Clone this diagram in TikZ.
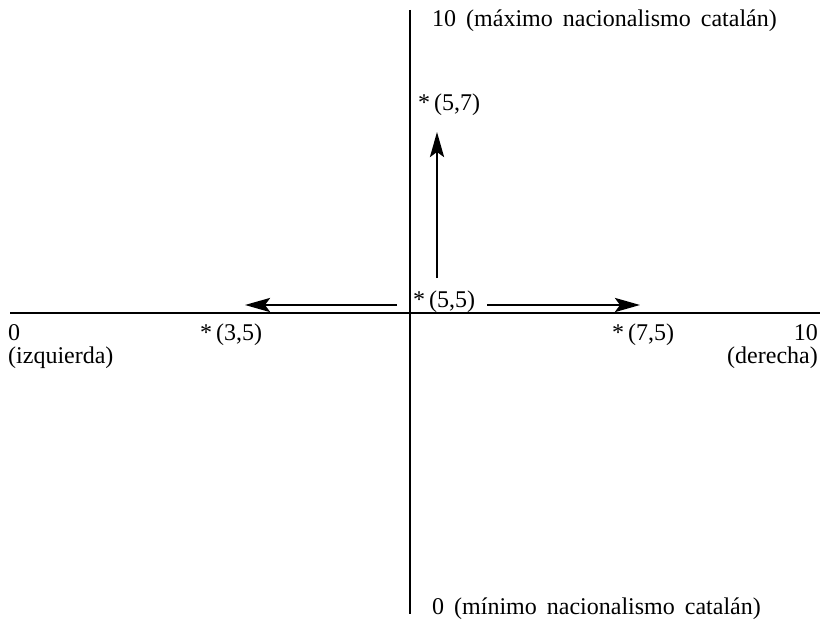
\documentclass[tikz,border=0pt]{standalone}
\usepackage{fontspec}
\setmainfont{Liberation Serif}
\usetikzlibrary{arrows.meta}
\newcommand{\widesp}{\spaceskip=10pt\relax}
\begin{document}
\begin{tikzpicture}[x=1pt,y=-1pt,
  lbl/.style={inner sep=0pt, font=\fontsize{24}{26}\selectfont},
  mv/.style={line width=2.9pt, -{Stealth[length=25pt,width=14pt,inset=5pt]}}]
\useasboundingbox (0,0) rectangle (822,623);
% axes
\coordinate (hl) at (10,313);
\coordinate (hr) at (820,313);
\coordinate (vt) at (410,10);
\coordinate (vb) at (410,614);
\draw[line width=1.3pt] (hl) -- (hr);
\draw[line width=2.6pt] (vt) -- (vb);
% labels
\node[lbl, anchor=base west] (top) at (432,27) {\widesp 10 (máximo nacionalismo catalán)};
\node[lbl, anchor=base west] (bot) at (432,614) {\widesp 0 (mínimo nacionalismo catalán)};
\node[lbl, anchor=base west] (zero) at (8,340) {0};
\node[lbl, anchor=base west] (izq) at (8,363) {(izquierda)};
\node[lbl, anchor=base east] (ten) at (818,340) {10};
\node[lbl, anchor=base east] (der) at (818,363) {(derecha)};
\node[lbl, anchor=base west] (p55) at (413,307) {*\,(5,5)};
\node[lbl, anchor=base west] (p57) at (418,111) {*\,(5,7)};
\node[lbl, anchor=base west] (p35) at (200,340) {*\,(3,5)};
\node[lbl, anchor=base west] (p75) at (612,340) {*\,(7,5)};
% movement arrows
\coordinate (la) at (397,305);
\coordinate (lb) at (245,305);
\coordinate (ra) at (487,305);
\coordinate (rb) at (640,305);
\coordinate (ua) at (437,278);
\coordinate (ub) at (437,132);
\draw[mv] (la) -- (lb);
\draw[mv] (ra) -- (rb);
\draw[mv] (ua) -- (ub);
\end{tikzpicture}
\end{document}
